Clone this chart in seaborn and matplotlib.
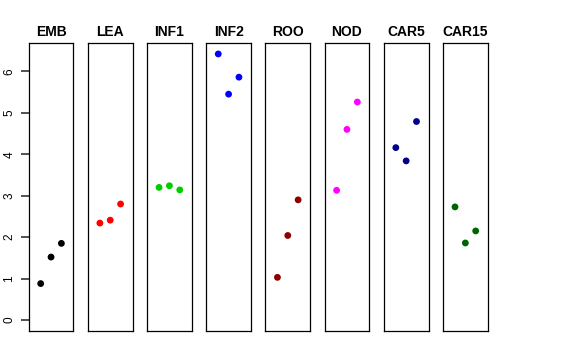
import matplotlib
matplotlib.use("Agg")
import matplotlib.pyplot as plt
import seaborn as sns
import pandas as pd

tecidos = ["EMB", "LEA", "INF1", "INF2", "ROO", "NOD", "CAR5", "CAR15"]
cores = ["black", "#FF0000", "#00CD00", "#0000FF", "#8B0000", "#FF00FF", "#00008B", "#006400"]
valores = {
    "EMB": [0.88, 1.52, 1.85],
    "LEA": [2.34, 2.41, 2.80],
    "INF1": [3.20, 3.24, 3.14],
    "INF2": [6.42, 5.45, 5.86],
    "ROO": [1.03, 2.04, 2.90],
    "NOD": [3.13, 4.60, 5.26],
    "CAR5": [4.16, 3.84, 4.79],
    "CAR15": [2.73, 1.86, 2.15],
}
replicas = [1, 2, 3]
yticks = [0, 1, 2, 3, 4, 5, 6]

plt.rcParams["font.family"] = ["Liberation Sans", "DejaVu Sans"]

ymax = max(max(v) for v in valores.values())
ylim = (-0.04 * ymax, ymax * 1.04)

fig, axes = plt.subplots(1, len(tecidos), figsize=(5.76, 3.6), dpi=100)
fig.subplots_adjust(left=0.0498, right=0.8467, bottom=0.0814, top=0.8797, wspace=0.324)

for i, (ax, tecido, cor) in enumerate(zip(axes, tecidos, cores)):
    df = pd.DataFrame({"rep": replicas, "valor": valores[tecido]})
    sns.scatterplot(data=df, x="rep", y="valor", ax=ax, color=cor, s=24,
                    edgecolor="none", legend=False)
    ax.set_xlim(-0.16, 4.16)
    ax.set_ylim(*ylim)
    ax.set_xticks([])
    ax.set_xlabel("")
    ax.set_ylabel("")
    ax.set_title(tecido, fontsize=10, fontweight="bold", pad=5)
    for sp in ax.spines.values():
        sp.set_color("black")
        sp.set_linewidth(0.9)
    if i == 0:
        ax.set_yticks(yticks)
        ax.set_yticklabels([str(v) for v in yticks], rotation=90, va="center",
                           fontsize=8.5)
        ax.tick_params(axis="y", direction="out", length=6, width=1.2,
                       color="#333333", pad=3.5)
    else:
        ax.set_yticks([])

plt.savefig("out.png", dpi=100)
plt.close()
